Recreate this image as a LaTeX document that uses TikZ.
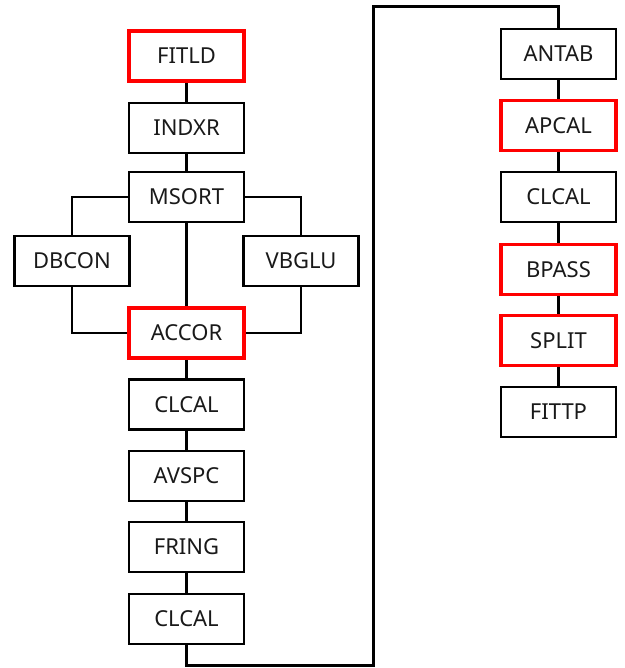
\documentclass[tikz,border=0pt]{standalone}
\usepackage{fontspec}
\setmainfont{Noto Sans}
\definecolor{boxred}{RGB}{255,0,0}
\begin{document}
\begin{tikzpicture}[x=1pt,y=-1pt,
  taskbox/.style={draw=black,line width=2.2pt,fill=white,minimum width=115pt,minimum height=50pt,inner sep=0pt,font=\fontsize{22}{24}\selectfont,text=black!90},
  redbox/.style={taskbox,draw=boxred,line width=3.8pt},
  mainline/.style={line width=3pt,draw=black},
  branch/.style={line width=1.6pt,draw=black}]
\useasboundingbox (0,0) rectangle (624,668);
\coordinate (c1) at (186.5,665);
\coordinate (c2) at (373,665);
\coordinate (c3) at (373,7);
\coordinate (c4) at (558.5,7);
\node[redbox] (fitld) at (186.5,56) {FITLD};
\node[taskbox] (indxr) at (186.5,128) {INDXR};
\node[taskbox] (msort) at (186.5,197) {MSORT};
\node[taskbox] (dbcon) at (72,261) {DBCON};
\node[taskbox] (vbglu) at (301,261) {VBGLU};
\node[redbox] (accor) at (186.5,333) {ACCOR};
\node[taskbox] (clcala) at (186.5,404.5) {CLCAL};
\node[taskbox] (avspc) at (186.5,476) {AVSPC};
\node[taskbox] (fring) at (186.5,547) {FRING};
\node[taskbox] (clcalb) at (186.5,619) {CLCAL};
\node[taskbox] (antab) at (558.5,54) {ANTAB};
\node[redbox] (apcal) at (558.5,125.5) {APCAL};
\node[taskbox] (clcalc) at (558.5,197) {CLCAL};
\node[redbox] (bpass) at (558.5,269.5) {BPASS};
\node[redbox] (split) at (558.5,340.5) {SPLIT};
\node[taskbox] (fittp) at (558.5,412) {FITTP};
\draw[mainline] (fitld) -- (indxr);
\draw[mainline] (indxr) -- (msort);
\draw[mainline] (msort) -- (accor);
\draw[branch] (msort.west) -| (dbcon.north);
\draw[branch] (dbcon.south) |- (accor.west);
\draw[branch] (msort.east) -| (vbglu.north);
\draw[branch] (vbglu.south) |- (accor.east);
\draw[mainline] (accor) -- (clcala);
\draw[mainline] (clcala) -- (avspc);
\draw[mainline] (avspc) -- (fring);
\draw[mainline] (fring) -- (clcalb);
\draw[mainline,line join=miter] (clcalb.south) -- (c1) -- (c2) -- (c3) -- (c4) -- (antab.north);
\draw[mainline] (antab) -- (apcal);
\draw[mainline] (apcal) -- (clcalc);
\draw[mainline] (clcalc) -- (bpass);
\draw[mainline] (bpass) -- (split);
\draw[mainline] (split) -- (fittp);
\end{tikzpicture}
\end{document}
